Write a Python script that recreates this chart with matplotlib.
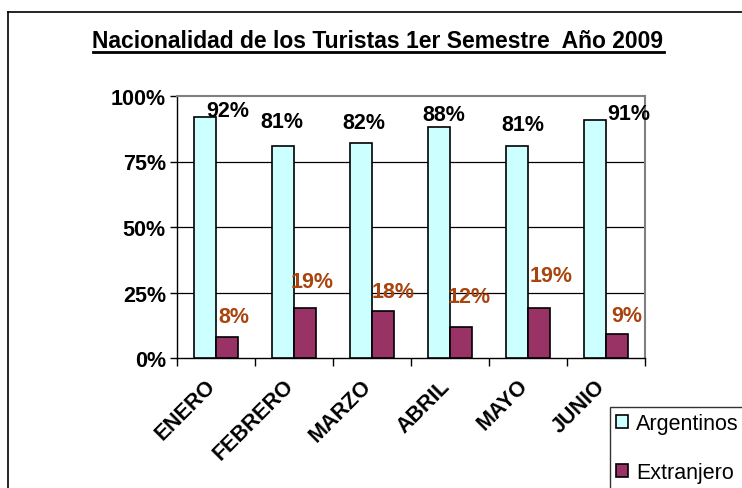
import matplotlib
matplotlib.use("Agg")
import matplotlib.pyplot as plt
from matplotlib.lines import Line2D
import numpy as np

plt.rcParams['font.family'] = ['Liberation Sans', 'DejaVu Sans']

months = ["ENERO", "FEBRERO", "MARZO", "ABRIL", "MAYO", "JUNIO"]
argentinos = [0.92, 0.81, 0.82, 0.88, 0.81, 0.91]
extranjero = [0.08, 0.19, 0.18, 0.12, 0.19, 0.09]
y_ticks = [0, 0.25, 0.5, 0.75, 1.0]
y_tick_labels = ["0%", "25%", "50%", "75%", "100%"]
series_names = ["Argentinos", "Extranjero"]
title = "Nacionalidad de los Turistas 1er Semestre  Año 2009"

# label offsets (pixels) relative to bar top-center, as placed in the original
arg_label_off = [(23, 6), (-1, 24), (3, 21), (5, 13), (6, 21), (34, 6)]
ext_label_off = [(7, 21), (7, 27), (10, 19), (8, 30), (12, 33), (10, 19)]

W, H = 742, 489
fig = plt.figure(figsize=(W / 100, H / 100), dpi=100)
ax = fig.add_axes([177 / W, 1 - 359 / H, (645 - 177) / W, (359 - 97) / H])

x = np.arange(len(months))
bw = 0.28
b1 = ax.bar(x - bw / 2, argentinos, bw, color="#CCFFFF", edgecolor="black",
            linewidth=1.2, label=series_names[0], zorder=3)
b2 = ax.bar(x + bw / 2, extranjero, bw, color="#993366", edgecolor="black",
            linewidth=1.2, label=series_names[1], zorder=3)

for i, v in enumerate(argentinos):
    ax.annotate(f"{round(v*100)}%", (x[i] - bw / 2, v), xytext=arg_label_off[i],
                textcoords="offset pixels", ha="center", va="center",
                fontsize=15.5, fontweight="bold", color="black", zorder=5)
for i, v in enumerate(extranjero):
    ax.annotate(f"{round(v*100)}%", (x[i] + bw / 2, v), xytext=ext_label_off[i],
                textcoords="offset pixels", ha="center", va="center",
                fontsize=15.5, fontweight="bold", color="#A8450F", zorder=5)

ax.set_xlim(-0.5, len(months) - 0.5)
ax.set_ylim(0, 1)
ax.set_yticks(y_ticks)
ax.set_yticklabels(y_tick_labels, fontsize=15.5, fontweight="bold")
for yv in y_ticks[1:-1]:
    ax.axhline(yv, color="black", linewidth=0.9, zorder=1)

ax.set_xticks(np.arange(-0.5, len(months), 1.0))
ax.set_xticklabels([])
ax.tick_params(axis="x", which="major", length=6, width=1, direction="out")
ax.tick_params(axis="y", length=5, width=1, direction="out", pad=3)
for i, m in enumerate(months):
    ax.annotate(m, (x[i], 0), xytext=(-11, -17), textcoords="offset pixels",
                rotation=45, ha="right", va="top", rotation_mode="anchor",
                fontsize=15.5, fontweight="bold", annotation_clip=False)

for s in ["left", "bottom"]:
    ax.spines[s].set_color("black")
    ax.spines[s].set_linewidth(1.0)
for s in ["top", "right"]:
    ax.spines[s].set_color("#808080")
    ax.spines[s].set_linewidth(1.5)

# outer chart frame
fig.add_artist(Line2D([8 / W, 1.01], [1 - 13 / H, 1 - 13 / H], color="black",
                      linewidth=1.2, transform=fig.transFigure))
fig.add_artist(Line2D([8 / W, 8 / W], [-0.01, 1 - 13 / H], color="black",
                      linewidth=1.2, transform=fig.transFigure))

t = fig.text(378 / W, 1 - 42 / H, title, ha="center", va="center",
             fontsize=16.5, fontweight="bold")
fig.canvas.draw()
bb = t.get_window_extent(fig.canvas.get_renderer())
uy = 1 - 53 / H
fig.add_artist(Line2D([bb.x0 / W, bb.x1 / W], [uy, uy], color="black",
                      linewidth=2.0, transform=fig.transFigure))

leg = fig.legend(handles=[b1, b2], labels=series_names, loc="upper left",
                 bbox_to_anchor=(610 / W, 1 - 408 / H), fontsize=15.5,
                 frameon=True, fancybox=False, edgecolor="black",
                 handlelength=0.55, handleheight=0.55, handletextpad=0.35,
                 labelspacing=1.3, borderpad=0.3, borderaxespad=0)
leg.get_frame().set_linewidth(1.0)

fig.savefig("out.png", dpi=100)
